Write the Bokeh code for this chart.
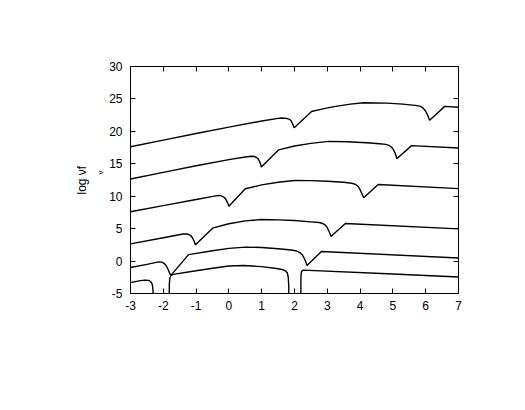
import math
from bokeh.plotting import figure
from bokeh.models import Range1d, LinearAxis, FixedTicker, Title
from bokeh.embed import file_html
from bokeh.resources import INLINE

# ---- data ----
x_ticks = [-3, -2, -1, 0, 1, 2, 3, 4, 5, 6, 7]
x_tick_labels = ["-3", "-2", "-1", "0", "1", "2", "3", "4", "5", "6", "7"]
y_ticks = [-5, 0, 5, 10, 15, 20, 25, 30]
y_tick_labels = ["-5", "0", "5", "10", "15", "20", "25", "30"]

x1 = [-3.0, -2.0, -1.0, 0.0, 1.0, 1.5, 1.62, 1.75, 1.85, 1.9, 1.94, 1.97, 1.99,
      2.52, 2.9, 3.25, 3.7, 4.11, 4.83, 5.3, 5.68, 5.85, 5.93, 6.0, 6.05, 6.09, 6.12, 6.58, 7.0]
y1 = [17.62, 18.65, 19.67, 20.65, 21.6, 22.0, 22.07, 22.0, 21.85, 21.6, 21.2, 20.8, 20.55,
      23.07, 23.5, 23.85, 24.2, 24.4, 24.35, 24.2, 24.0, 23.85, 23.55, 23.1, 22.6, 22.1, 21.72, 23.85, 23.72]

x2 = [-3.0, -2.0, -1.0, 0.0, 0.5, 0.68, 0.78, 0.85, 0.9, 0.94, 0.97, 0.99,
      1.52, 2.0, 2.5, 3.04, 3.6, 4.2, 4.6, 4.78, 4.88, 4.96, 5.02, 5.07, 5.1, 5.12, 5.57, 7.0]
y2 = [12.65, 13.68, 14.7, 15.65, 16.05, 16.17, 16.12, 15.95, 15.7, 15.3, 14.9, 14.5,
      17.15, 17.75, 18.15, 18.45, 18.4, 18.25, 18.1, 18.0, 17.85, 17.55, 17.15, 16.6, 16.15, 15.78, 17.8, 17.43]

x3 = [-3.0, -2.0, -1.0, -0.4, -0.28, -0.18, -0.12, -0.08, -0.04, -0.01, 0.0,
      0.5, 1.0, 1.5, 2.0, 2.5, 3.0, 3.5, 3.75, 3.86, 3.94, 4.0, 4.05, 4.09, 4.11, 4.55, 7.0]
y3 = [7.6, 8.55, 9.5, 10.05, 10.12, 9.95, 9.7, 9.4, 9.0, 8.65, 8.46,
      11.15, 11.75, 12.15, 12.42, 12.4, 12.3, 12.15, 12.0, 11.82, 11.5, 11.0, 10.45, 10.0, 9.76, 11.8, 11.17]

x4 = [-3.0, -2.0, -1.4, -1.3, -1.22, -1.14, -1.09, -1.05, -1.02,
      -0.48, 0.0, 0.5, 1.0, 1.5, 2.0, 2.5, 2.75, 2.86, 2.94, 3.0, 3.05, 3.09, 3.11, 3.55, 7.0]
y4 = [2.65, 3.6, 4.18, 4.2, 4.1, 3.8, 3.4, 2.95, 2.5,
      5.12, 5.75, 6.2, 6.4, 6.35, 6.25, 6.05, 5.95, 5.8, 5.55, 5.15, 4.6, 4.15, 3.8, 5.8, 4.97]

x5 = [-3.0, -2.5, -2.14, -2.05, -1.98, -1.93, -1.88, -1.84, -1.8, -1.77,
      -1.23, -0.5, 0.0, 0.5, 1.0, 1.5, 1.9, 2.07, 2.17, 2.24, 2.3, 2.35, 2.38, 2.82, 7.0]
y5 = [-1.0, -0.5, -0.13, -0.18, -0.35, -0.6, -1.0, -1.45, -1.95, -2.2,
      1.0, 1.6, 1.95, 2.15, 2.1, 1.9, 1.7, 1.55, 1.3, 0.95, 0.4, -0.2, -0.7, 1.48, 0.48]

x6 = [-3.0, -2.7, -2.55, -2.45, -2.39, -2.35, -2.33, -2.315, -2.305, -2.3,
      -1.83, -1.825, -1.815, -1.8, -1.77, -1.7, -1.0, -0.5, 0.0, 0.45, 1.0, 1.45, 1.62, 1.72, 1.78,
      1.81, 1.825, 1.83, 2.19, 2.195, 2.2, 2.22, 2.27, 4.83, 7.0]
y6 = [-3.33, -3.02, -2.93, -2.97, -3.15, -3.4, -3.8, -4.5, -6.0, -12.0,
      -12.0, -6.0, -3.5, -2.6, -2.25, -2.05, -1.5, -1.1, -0.75, -0.68, -0.85, -1.15, -1.3, -1.5, -1.8,
      -2.5, -3.8, -12.0, -12.0, -3.5, -2.0, -1.55, -1.4, -1.95, -2.46]

curves = [(x1, y1), (x2, y2), (x3, y3), (x4, y4), (x5, y5), (x6, y6)]

FONT = "Liberation Sans"

p = figure(frame_width=328, frame_height=227,
           min_border_left=130, min_border_right=59,
           min_border_top=66, min_border_bottom=100,
           x_range=Range1d(-3, 7), y_range=Range1d(-5, 30),
           output_backend="svg", toolbar_location=None)

p.background_fill_color = "white"
p.border_fill_color = "white"
p.outline_line_color = "black"
p.outline_line_width = 1
p.xgrid.visible = False
p.ygrid.visible = False

p.add_layout(LinearAxis(), "above")
p.add_layout(LinearAxis(), "right")

for ax in p.xaxis:
    ax.ticker = FixedTicker(ticks=x_ticks)
    ax.major_label_overrides = {t: l for t, l in zip(x_ticks, x_tick_labels)}
for ax in p.yaxis:
    ax.ticker = FixedTicker(ticks=y_ticks)
    ax.major_label_overrides = {t: l for t, l in zip(y_ticks, y_tick_labels)}

for ax in list(p.xaxis) + list(p.yaxis):
    ax.axis_line_color = None
    ax.major_tick_in = 5
    ax.major_tick_out = 0
    ax.major_tick_line_color = "black"
    ax.major_tick_line_width = 1
    ax.minor_tick_line_color = None
    ax.major_label_text_font = FONT
    ax.major_label_text_font_size = "12px"
    ax.major_label_text_color = "black"

p.below[0].major_label_standoff = 7
p.left[0].major_label_standoff = 8
p.above[0].major_label_text_color = None
p.above[0].major_label_text_font_size = "1px"
p.right[0].major_label_text_color = None
p.right[0].major_label_text_font_size = "1px"

for xs, ys in curves:
    p.line(xs, ys, line_color="black", line_width=1.4)

# y-axis label "log νf" with subscript "ν", as two stacked side titles
t_sub = Title(text="\u03bd", text_font=FONT, text_font_size="8px", text_font_style="normal",
              text_color="black", align="left", offset=119, standoff=4)
t_main = Title(text="log \u03bdf", text_font=FONT, text_font_size="12px", text_font_style="normal",
               text_color="black", align="left", offset=99, standoff=6)
p.add_layout(t_sub, "left")
p.add_layout(t_main, "left")

open("out.html", "w").write(file_html(p, INLINE))
